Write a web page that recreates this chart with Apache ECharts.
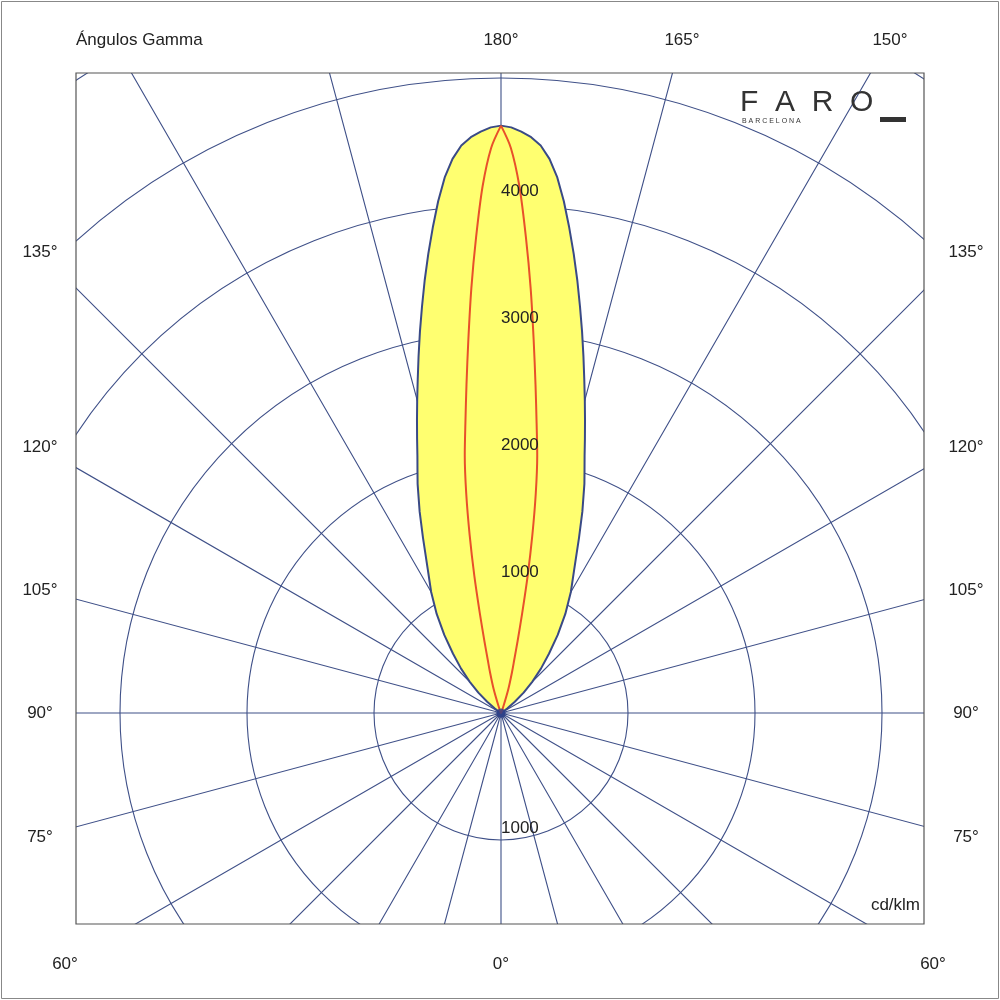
<!DOCTYPE html>
<html><head><meta charset="utf-8">
<script src="https://cdn.jsdelivr.net/npm/echarts@6/dist/echarts.min.js"></script>
<style>html,body{margin:0;padding:0;background:#fff}#c{width:1000px;height:1000px}</style>
</head><body><div id="c"></div>
<script>
// Gamma angles (deg) and intensities (cd/klm), one half of each symmetric curve
const blueGamma = [180,179,178,177,176,175,174,173,172,171,170,169,168,167,166,165,164,163,162,161,160,158,156,153,150,147,144,141,138,135,132,129,126,123,120];
const blueValue = [4625,4612,4580,4540,4480,4380,4240,4060,3860,3660,3460,3260,3070,2885,2710,2550,2400,2260,2130,2020,1920,1710,1510,1270,1100,930,760,600,470,350,240,140,60,15,0];
const redGamma  = [180,179,178,177,176,175,174,173,172,171,170,169,168,167,166,165,163,160,155];
const redValue  = [4625,4450,4150,3750,3350,2950,2600,2300,2050,1750,1420,1100,800,580,430,340,200,50,0];
const radiusLabels = ['1000','2000','3000','4000'];
const radiusLabelValues = [1000,2000,3000,4000];
const leftAngleLabels = ['135°','120°','105°','90°','75°'];
const topAngleLabels = ['180°','165°','150°'];
const bottomAngleLabels = ['60°','0°','60°'];

function mirror(g, v){
  const a = g.map((x,i)=>[v[i], x]);
  const b = g.slice().reverse().map((x,i)=>[v[v.length-1-i], 360 - x]);
  return a.concat(b.slice(1));
}

const cx = 501, cy = 713, R = 889, L = 76, T = 73, Rt = 924, B = 924;
const font = '17px "Liberation Sans", Arial, sans-serif';
const g = [];
[[0,0,1000,T],[0,B,1000,1000-B],[0,0,L,1000],[Rt,0,1000-Rt,1000]].forEach(r=>{
  g.push({type:'rect',shape:{x:r[0],y:r[1],width:r[2],height:r[3]},style:{fill:'#fff'},z:100});
});
g.push({type:'rect',shape:{x:L,y:T,width:Rt-L,height:B-T},style:{fill:'none',stroke:'#555',lineWidth:1.2},z:101});
g.push({type:'rect',shape:{x:1.5,y:1.5,width:997,height:997},style:{fill:'none',stroke:'#888',lineWidth:1},z:101});
function txt(x,y,s,align,extra){
  g.push({type:'text',x:x,y:y,z:102,style:Object.assign({text:s,font:font,fill:'#222',align:align||'center',verticalAlign:'middle'},extra||{})});
}
txt(76,40,'Ángulos Gamma','left');
const topX = [501,682,890];
topAngleLabels.forEach((s,i)=>txt(topX[i],40,s));
const sideY = [252,447,590,713,837];
leftAngleLabels.forEach((s,i)=>{txt(40,sideY[i],s);txt(966,sideY[i],s);});
const botX = [65,501,933];
bottomAngleLabels.forEach((s,i)=>txt(botX[i],964,s));
txt(920,905,'cd/klm','right');
radiusLabelValues.forEach((v,i)=>txt(501,cy - v/7000*R - 14,radiusLabels[i],'left'));
txt(501,cy + 1000/7000*R - 12,radiusLabels[0],'left');
g.push({type:'text',x:740,y:103,z:102,style:{text:'F  A  R  O',font:'30px "Liberation Sans", Arial, sans-serif',fill:'#333',verticalAlign:'middle'}});
g.push({type:'text',x:742,y:121,z:102,style:{text:'B A R C E L O N A',font:'7px "Liberation Sans", Arial, sans-serif',fill:'#333',verticalAlign:'middle'}});
g.push({type:'rect',shape:{x:880,y:117,width:26,height:5},style:{fill:'#333'},z:102});

const chart = echarts.init(document.getElementById('c'));
chart.setOption({
  animation:false,
  polar:{center:[cx,cy],radius:R},
  angleAxis:{type:'value',min:0,max:360,interval:15,startAngle:270,clockwise:true,
    axisLine:{show:false},axisTick:{show:false},axisLabel:{show:false},
    splitLine:{show:true,lineStyle:{color:'#3f5088',width:1.1}}},
  radiusAxis:{type:'value',min:0,max:7000,interval:1000,
    axisLine:{show:false},axisTick:{show:false},axisLabel:{show:false},
    splitLine:{show:true,lineStyle:{color:'#3f5088',width:1.1}}},
  series:[
    {type:'line',coordinateSystem:'polar',data:mirror(blueGamma,blueValue),smooth:false,showSymbol:false,
      lineStyle:{color:'#3a4a86',width:2,join:'round'},areaStyle:{color:'#ffff70',opacity:1},z:2},
    {type:'line',coordinateSystem:'polar',data:mirror(redGamma,redValue),smooth:0.3,showSymbol:false,
      lineStyle:{color:'#e8502a',width:2},z:3},
    {type:'scatter',coordinateSystem:'polar',data:[[0,0]],symbolSize:9,itemStyle:{color:'#2a3f8a'},z:4}
  ],
  graphic:g
});
</script></body></html>
